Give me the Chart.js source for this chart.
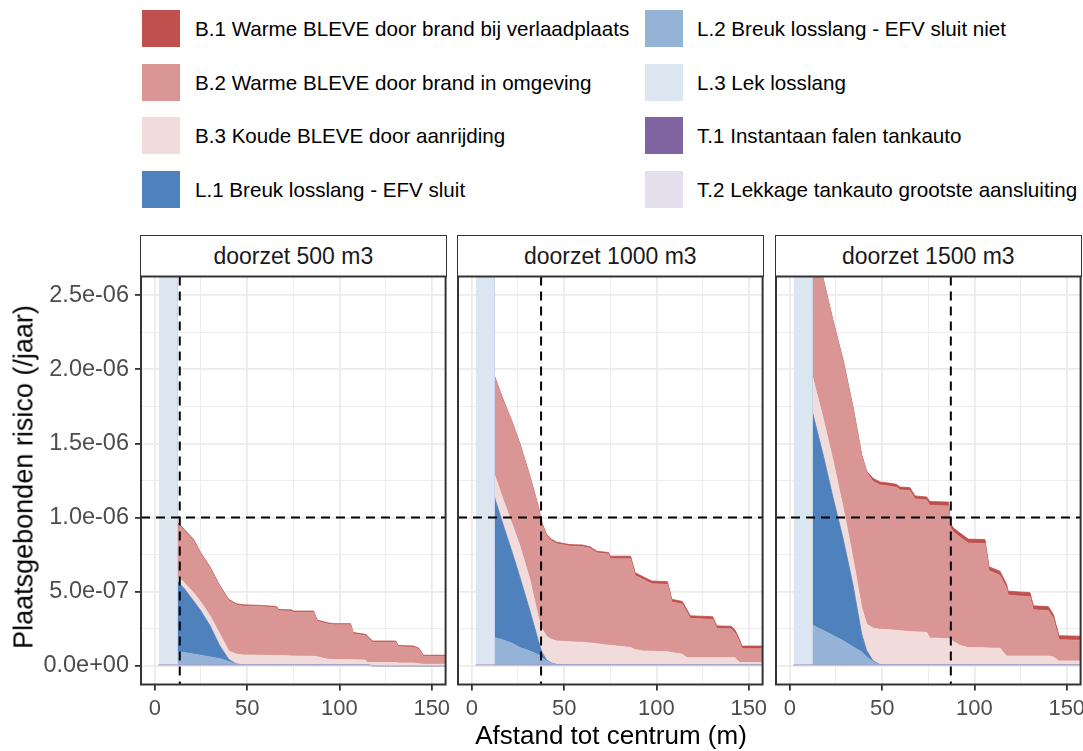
<!DOCTYPE html>
<html>
<head>
<meta charset="utf-8">
<script src="https://cdn.jsdelivr.net/npm/chart.js@4.4.1/dist/chart.umd.min.js"></script>
<style>
html,body{margin:0;padding:0;background:#fff;}
body{width:1083px;height:751px;position:relative;overflow:hidden;font-family:"Liberation Sans",Arial,sans-serif;}
canvas{position:absolute;left:0;top:0;}
.key{position:absolute;width:38px;height:37px;}
.ltext{position:absolute;font-size:20.6px;color:#000;line-height:37px;height:37px;white-space:nowrap;}
.strip{position:absolute;top:235px;height:42px;box-sizing:border-box;border:1.5px solid #333;background:#fff;font-size:23px;color:#1A1A1A;display:flex;align-items:center;justify-content:center;}
.ytitle{position:absolute;left:24px;top:477px;transform:translate(-50%,-50%) rotate(-90deg);font-size:27px;white-space:nowrap;color:#000;}
.xtitle{position:absolute;left:141px;width:940px;top:722px;line-height:26px;font-size:26px;text-align:center;color:#000;white-space:nowrap;}
</style>
</head>
<body>
<div id="legend"></div>
<div id="strips"></div>
<canvas id="p0" width="1083" height="751"></canvas>
<canvas id="p1" width="1083" height="751"></canvas>
<canvas id="p2" width="1083" height="751"></canvas>
<div class="ytitle">Plaatsgebonden risico (/jaar)</div>
<div class="xtitle">Afstand tot centrum (m)</div>
<script>
// ---------- labels & styling inputs ----------
const seriesNames = [
  'B.1 Warme BLEVE door brand bij verlaadplaats',
  'B.2 Warme BLEVE door brand in omgeving',
  'B.3 Koude BLEVE door aanrijding',
  'L.1 Breuk losslang - EFV sluit',
  'L.2 Breuk losslang - EFV sluit niet',
  'L.3 Lek losslang',
  'T.1 Instantaan falen tankauto',
  'T.2 Lekkage tankauto grootste aansluiting'
];
const seriesColors = ['#C0504D','#D99694','#F2DCDB','#4F81BD','#95B3D7','#DCE6F1','#8064A2','#E4DFEC'];
const facetLabels = ['doorzet 500 m3','doorzet 1000 m3','doorzet 1500 m3'];
const xMajorTicks = [0, 50, 100, 150];
const xMinorTicks = [25, 75, 125];
const yMajorTicks = [0, 5e-7, 1e-6, 1.5e-6, 2e-6, 2.5e-6];
const yMinorTicks = [2.5e-7, 7.5e-7, 1.25e-6, 1.75e-6, 2.25e-6];
const riskLimit = 1e-6;                 // horizontal reference line
const contourDistance = [13.5, 37.5, 87.2]; // vertical reference line per facet (m)

// ---------- data (risk values in units of 1e-6 /jaar) ----------
// doorzet 500 m3
const dist500 = [2,11.9,12,16,21,25,30,35,40,44,48,58,66,67,74,75,86,88,92,94,97,106,107.5,114,115,116,118,130.5,131.7,140,143,145.5,160];
const B1_500 = [0,0,.008,.008,.008,.008,.008,.008,.008,.008,.008,.008,.008,.008,.008,.008,.008,.008,.008,.008,.008,.008,.008,.008,.008,.008,.008,.008,.008,.008,.008,.008,.008];
const B2_500 = [0,0,.358,.352,.35,.322,.321,.317,.34,.332,.33,.328,.322,.302,.303,.295,.297,.239,.238,.237,.233,.235,.175,.165,.174,.159,.137,.137,.11,.107,.097,.053,.053];
const B3_500 = [0,0,.033,.04,.057,.06,.067,.08,.056,.066,.068,.066,.064,.064,.061,.061,.059,.056,.044,.039,.038,.036,.036,.034,.017,.017,.023,.023,.02,.02,.015,.011,.011];
const L1_500 = [0,0,.475,.43,.357,.298,.208,.09,.015,.002,0,0,0,0,0,0,0,0,0,0,0,0,0,0,0,0,0,0,0,0,0,0,0];
const L2_500 = [0,0,.091,.084,.074,.066,.055,.044,.024,.006,0,0,0,0,0,0,0,0,0,0,0,0,0,0,0,0,0,0,0,0,0,0,0];
const L3_500 = [6,6,0,0,0,0,0,0,0,0,0,0,0,0,0,0,0,0,0,0,0,0,0,0,0,0,0,0,0,0,0,0,0];
const T1_500 = [.004,.004,.004,.004,.004,.004,.004,.004,.004,.004,.004,.004,.004,.004,.004,.004,.004,.004,.004,.004,.004,.004,.004,.004,.004,.004,0,0,0,0,0,0,0];
const T2_500 = [.002,.002,.002,.002,.002,.002,.002,.002,.002,.002,.002,.002,.002,.002,.002,.002,.002,.002,.002,.002,.002,.002,.002,.002,.002,.002,0,0,0,0,0,0,0];

// doorzet 1000 m3
const dist1000 = [2,11.9,12,17,22,26,31.5,36,38,40.5,43,46,53,60,64,67.7,74,75,86,88.5,93,97.5,106,108.3,114,116.5,118.3,130.5,132.7,140.5,142.6,143.6,145.3,146.3,160];
const B1_1000 = [0,0,.006,.006,.006,.006,.006,.006,.01,.01,.01,.01,.01,.01,.01,.01,.01,.018,.018,.018,.018,.018,.018,.018,.018,.018,.018,.018,.018,.018,.018,.018,.018,.018,.018];
const B2_1000 = [0,0,.656,.667,.684,.684,.692,.74,.704,.676,.665,.656,.645,.645,.638,.613,.615,.583,.598,.50,.481,.454,.455,.341,.338,.306,.264,.258,.196,.194,.166,.157,.129,.093,.093];
const B3_1000 = [0,0,.152,.171,.19,.21,.21,.16,.16,.16,.16,.158,.157,.154,.149,.144,.134,.133,.118,.104,.095,.094,.089,.084,.073,.05,.05,.05,.05,.05,.05,.034,.017,.017,.017];
const L1_1000 = [0,0,.957,.775,.608,.476,.27,.095,.035,.006,.002,.002,0,0,0,0,0,0,0,0,0,0,0,0,0,0,0,0,0,0,0,0,0,0,0];
const L2_1000 = [0,0,.185,.169,.146,.118,.094,.069,.049,.028,.012,.002,0,0,0,0,0,0,0,0,0,0,0,0,0,0,0,0,0,0,0,0,0,0,0];
const L3_1000 = [6,6,0,0,0,0,0,0,0,0,0,0,0,0,0,0,0,0,0,0,0,0,0,0,0,0,0,0,0,0,0,0,0,0,0];
const T1_1000 = [.004,.004,.004,.004,.004,.004,.004,.004,.004,.004,.004,.004,.004,.004,.004,.004,.004,.004,.004,.004,.004,.004,.004,.004,.004,.004,.004,.004,.004,.004,.004,.004,.004,.004,.004];
const T2_1000 = [.002,.002,.002,.002,.002,.002,.002,.002,.002,.002,.002,.002,.002,.002,.002,.002,.002,.002,.002,.002,.002,.002,.002,.002,.002,.002,.002,.002,.002,.002,.002,.002,.002,.002,.002];

// doorzet 1500 m3
const dist1500 = [2,11.9,12,18,23.5,29,34.3,38.9,41.6,45,48.8,52.4,57.8,59.6,65,67.8,74.1,75.9,86,87,88.5,92,96.6,105.7,107.9,113.8,117.4,118.3,130.1,131.9,140,142.7,145.8,160];
const B1_1500 = [0,0,.008,.008,.008,.008,.008,.008,.008,.02,.02,.02,.02,.02,.02,.02,.02,.027,.027,.027,.027,.027,.027,.027,.027,.027,.027,.027,.027,.027,.027,.027,.027,.027];
const B2_1500 = [0,0,.978,.934,.935,.986,1.012,1.023,1.024,.99,.973,.97,.964,.948,.95,.896,.892,.893,.894,.753,.739,.73,.704,.703,.52,.492,.456,.41,.40,.311,.306,.261,.143,.139];
const B3_1500 = [0,0,.242,.246,.25,.21,.18,.18,.178,.219,.238,.239,.234,.232,.226,.224,.221,.182,.178,.174,.159,.134,.118,.116,.115,.114,.061,.061,.061,.061,.061,.054,.028,.028];
const L1_1500 = [0,0,1.446,1.186,.925,.68,.412,.12,.044,.006,.001,0,0,0,0,0,0,0,0,0,0,0,0,0,0,0,0,0,0,0,0,0,0,0];
const L2_1500 = [0,0,.27,.234,.199,.164,.122,.089,.054,.024,.002,0,0,0,0,0,0,0,0,0,0,0,0,0,0,0,0,0,0,0,0,0,0,0];
const L3_1500 = [6,6,0,0,0,0,0,0,0,0,0,0,0,0,0,0,0,0,0,0,0,0,0,0,0,0,0,0,0,0,0,0,0,0];
const T1_1500 = [.004,.004,.004,.004,.004,.004,.004,.004,.004,.004,.004,.004,.004,.004,.004,.004,.004,.004,.004,.004,.004,.004,.004,.004,.004,.004,.004,.004,.004,.004,.004,.004,.004,.004];
const T2_1500 = [.002,.002,.002,.002,.002,.002,.002,.002,.002,.002,.002,.002,.002,.002,.002,.002,.002,.002,.002,.002,.002,.002,.002,.002,.002,.002,.002,.002,.002,.002,.002,.002,.002,.002];

const UNIT = 1e-6;
const facets = [
  {x: dist500,  s: [B1_500, B2_500, B3_500, L1_500, L2_500, L3_500, T1_500, T2_500]},
  {x: dist1000, s: [B1_1000, B2_1000, B3_1000, L1_1000, L2_1000, L3_1000, T1_1000, T2_1000]},
  {x: dist1500, s: [B1_1500, B2_1500, B3_1500, L1_1500, L2_1500, L3_1500, T1_1500, T2_1500]}
];

// ---------- layout ----------
const W = 1083, H = 751;
const panelLeft = [141, 458, 776];
const panelWidth = 304.6;
const panelTop = 276.5, panelBottom = 684.5;

// legend & strips
(function(){
  const lg = document.getElementById('legend');
  const rowsTop = [10, 63.5, 117, 170.5];
  seriesNames.forEach((n, i) => {
    const col = Math.floor(i / 4), row = i % 4;
    const k = document.createElement('div');
    k.className = 'key';
    k.style.left = (col ? 645 : 142) + 'px';
    k.style.top = rowsTop[row] + 'px';
    k.style.background = seriesColors[i];
    lg.appendChild(k);
    const t = document.createElement('div');
    t.className = 'ltext';
    t.style.left = (col ? 697 : 195) + 'px';
    t.style.top = rowsTop[row] + 'px';
    t.textContent = n;
    lg.appendChild(t);
  });
  const st = document.getElementById('strips');
  facetLabels.forEach((f, i) => {
    const d = document.createElement('div');
    d.className = 'strip';
    d.style.left = (panelLeft[i] - 1) + 'px';
    d.style.width = (panelWidth + 2) + 'px';
    d.textContent = f;
    st.appendChild(d);
  });
})();

function fmtSci(v) {
  return v.toExponential(1).replace(/e([+-])(\d)$/, 'e$10$2');
}
function isIn(arr, v) { return arr.some(a => Math.abs(a - v) < 1e-13 + 1e-9 * Math.abs(a)); }

const refPlugin = {
  id: 'refs',
  afterDatasetsDraw(chart, args, opts) {
    const {ctx, chartArea: a, scales} = chart;
    ctx.save();
    ctx.beginPath();
    ctx.rect(a.left, a.top, a.right - a.left, a.bottom - a.top);
    ctx.clip();
    ctx.strokeStyle = '#000';
    ctx.lineWidth = 2;
    ctx.setLineDash([9, 6]);
    const yy = scales.y.getPixelForValue(riskLimit);
    ctx.beginPath(); ctx.moveTo(a.left, yy); ctx.lineTo(a.right, yy); ctx.stroke();
    const xx = scales.x.getPixelForValue(opts.cx);
    ctx.beginPath(); ctx.moveTo(xx, a.top); ctx.lineTo(xx, a.bottom); ctx.stroke();
    ctx.restore();
    ctx.save();
    ctx.strokeStyle = '#333333';
    ctx.lineWidth = 2;
    ctx.strokeRect(a.left, a.top, a.right - a.left, a.bottom - a.top);
    ctx.restore();
  }
};

facets.forEach((f, pi) => {
  // stacking order: bottom -> top  (T.2, T.1, L.3, L.2, L.1, B.3, B.2, B.1)
  const order = [7, 6, 5, 4, 3, 2, 1, 0];
  const datasets = order.map((si, k) => ({
    label: seriesNames[si],
    data: f.x.map((xv, j) => ({x: xv, y: f.s[si][j] * UNIT})),
    backgroundColor: seriesColors[si],
    borderColor: seriesColors[si],
    borderWidth: 0.8,
    pointRadius: 0,
    tension: 0,
    fill: k === 0 ? 'origin' : '-1'
  }));
  const showY = pi === 0;
  new Chart(document.getElementById('p' + pi), {
    type: 'line',
    data: {datasets},
    options: {
      responsive: false,
      animation: false,
      devicePixelRatio: 1,
      layout: {padding: {left: showY ? 0 : panelLeft[pi], right: W - panelLeft[pi] - panelWidth, top: panelTop, bottom: 0}},
      plugins: {legend: {display: false}, tooltip: {enabled: false}, refs: {cx: contourDistance[pi]}},
      scales: {
        x: {
          type: 'linear', min: -7.5, max: 157.5,
          afterBuildTicks(scale) {
            scale.ticks = xMajorTicks.concat(xMinorTicks).sort((a, b) => a - b).map(v => ({value: v}));
          },
          afterFit(scale) { scale.height = H - panelBottom; scale.paddingLeft = 0; scale.paddingRight = 0; },
          border: {display: false},
          grid: {
            drawOnChartArea: true, drawTicks: true, tickLength: 6,
            color: '#EBEBEB',
            lineWidth: c => (c.tick && isIn(xMajorTicks, c.tick.value)) ? 1.8 : 0.9,
            tickColor: c => (c.tick && isIn(xMajorTicks, c.tick.value)) ? '#333333' : 'rgba(0,0,0,0)',
            tickWidth: 1.8
          },
          ticks: {
            autoSkip: false, maxRotation: 0, minRotation: 0, padding: 5,
            color: '#4D4D4D', font: {family: '"Liberation Sans", Arial, sans-serif', size: 22},
            callback: v => isIn(xMajorTicks, v) ? String(v) : ''
          }
        },
        y: {
          type: 'linear', stacked: true, min: -0.125e-6, max: 2.625e-6,
          afterBuildTicks(scale) {
            scale.ticks = yMajorTicks.concat(yMinorTicks).sort((a, b) => a - b).map(v => ({value: v}));
          },
          afterFit(scale) { scale.width = showY ? panelLeft[0] : 0; scale.paddingTop = 0; scale.paddingBottom = 0; },
          border: {display: false},
          grid: {
            drawOnChartArea: true, drawTicks: showY, tickLength: 6,
            color: '#EBEBEB',
            lineWidth: c => (c.tick && isIn(yMajorTicks, c.tick.value)) ? 1.8 : 0.9,
            tickColor: c => (c.tick && isIn(yMajorTicks, c.tick.value)) ? '#333333' : 'rgba(0,0,0,0)',
            tickWidth: 1.8
          },
          ticks: {
            display: showY, autoSkip: false, padding: 6,
            color: '#4D4D4D', font: {family: '"Liberation Sans", Arial, sans-serif', size: 23.5},
            callback: v => isIn(yMajorTicks, v) ? fmtSci(v) : ''
          }
        }
      }
    },
    plugins: [refPlugin]
  });
});
</script>
</body>
</html>
